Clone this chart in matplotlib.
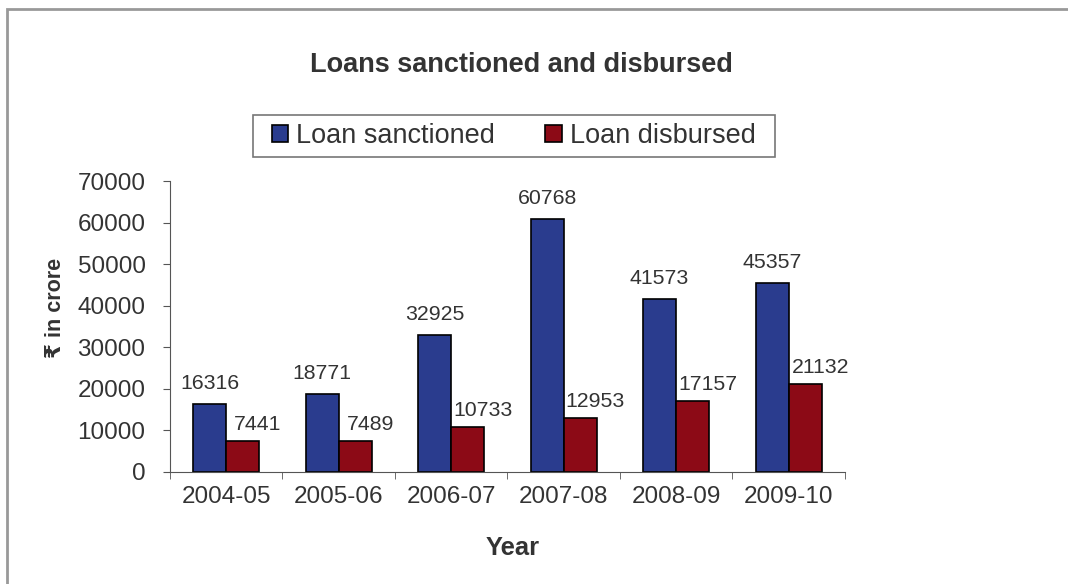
# Loans sanctioned and disbursed, grouped bar chart

import numpy as np
import matplotlib.pyplot as plt
from matplotlib.patches import Rectangle

plt.rcParams['font.family'] = ['Liberation Sans', 'DejaVu Sans']

years = ["2004-05", "2005-06", "2006-07", "2007-08", "2008-09", "2009-10"]
sanctioned = [16316, 18771, 32925, 60768, 41573, 45357]
disbursed = [7441, 7489, 10733, 12953, 17157, 21132]

text_col = "#333333"
blue = "#2a3c8e"
red = "#8c0a16"

fig = plt.figure(figsize=(10.68, 5.84), dpi=100)
ax = fig.add_axes([0.159, 0.192, 0.632, 0.498])

x = np.arange(len(years))
w = 0.293
ax.bar(x - w / 2, sanctioned, w, color=blue, edgecolor="black", linewidth=1.2,
       label="Loan sanctioned")
ax.bar(x + w / 2, disbursed, w, color=red, edgecolor="black", linewidth=1.2,
       label="Loan disbursed")

for xi, v in zip(x, sanctioned):
    ax.annotate(str(v), (xi - w / 2, v), xytext=(0, 8), textcoords="offset points",
                ha="center", va="bottom", fontsize=15.3, color=text_col)
for xi, v in zip(x, disbursed):
    ax.annotate(str(v), (xi + w / 2, v), xytext=(11, 5), textcoords="offset points",
                ha="center", va="bottom", fontsize=15.3, color=text_col)

ax.set_xlim(-0.5, len(years) - 0.5)
ax.set_ylim(0, 70000)
ax.set_yticks(range(0, 70001, 10000))
ax.set_xticks(x)
ax.set_xticklabels(years)
ax.set_xticks(np.arange(-0.5, len(years)), minor=True)
ax.tick_params(axis="x", which="major", length=0, pad=10, labelsize=17.5, labelcolor=text_col)
ax.tick_params(axis="x", which="minor", length=5, color="#555555")
ax.tick_params(axis="y", length=5, color="#555555", labelsize=17.5, labelcolor=text_col, pad=12.5)

for s in ["top", "right"]:
    ax.spines[s].set_visible(False)
for s in ["left", "bottom"]:
    ax.spines[s].set_color("#555555")

ax.set_xlabel("Year", fontsize=18.4, fontweight="bold", color=text_col, va="center")
ax.xaxis.set_label_coords(0.508, -0.262)
ax.set_ylabel("₹ in crore", fontsize=15.5, fontweight="bold", color=text_col, va="center")
ax.yaxis.set_label_coords(-0.170, 0.564)

fig.text(0.488, 0.888, "Loans sanctioned and disbursed", ha="center", va="center",
         fontsize=19.5, fontweight="bold", color=text_col)

leg = fig.legend(loc="center", bbox_to_anchor=(0.481, 0.767), ncol=2, fontsize=19.5,
                 frameon=False, handlelength=0.6, handleheight=0.6, handletextpad=0.3,
                 columnspacing=1.85, borderpad=0.3)
for t in leg.get_texts():
    t.set_color(text_col)

# legend frame, wider than the legend itself
fig.patches.append(Rectangle((253 / 1068, 1 - 157 / 584), 522 / 1068, 42 / 584,
                             transform=fig.transFigure, fill=False,
                             edgecolor="#777777", linewidth=1.2))

# outer border of the chart area
fig.patches.append(Rectangle((0.0066, -0.1), 1.1, 1.1 - 0.0154, transform=fig.transFigure,
                             fill=False, edgecolor="#999999", linewidth=2))

fig.savefig("out.png", dpi=100)
